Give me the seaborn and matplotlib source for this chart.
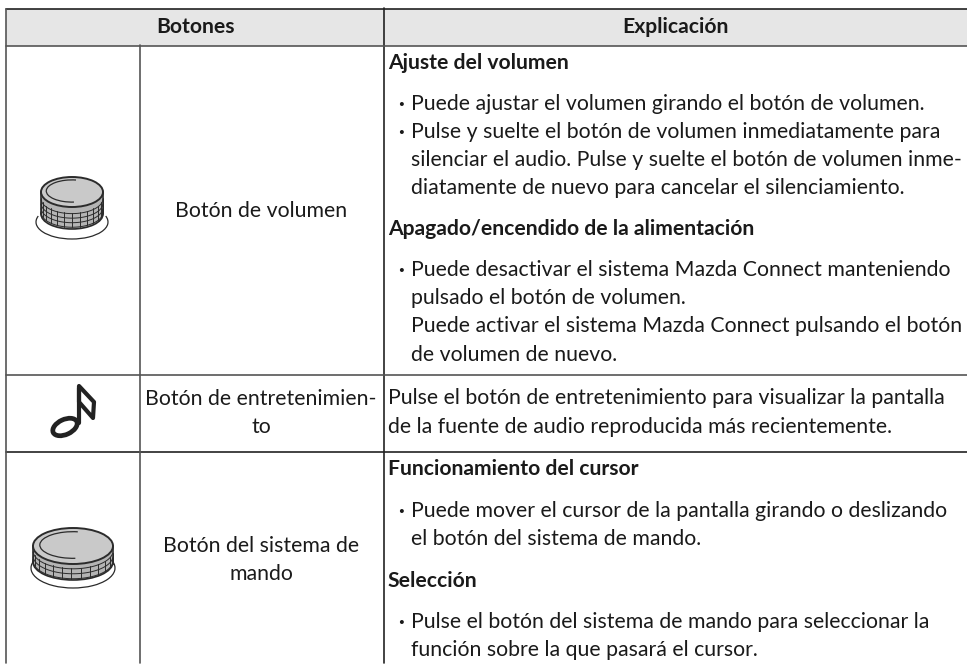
import numpy as np
import pandas as pd
import seaborn as sns
import matplotlib.pyplot as plt
from matplotlib.patches import Ellipse, Arc, Rectangle, PathPatch
from matplotlib.path import Path

sns.set_theme(style="white")
plt.rcParams['font.family'] = ['Lato', 'DejaVu Sans']

headers = ["Botones", "Explicación"]
header_x = [195, 675]

button_names = ["Botón de volumen", "Botón de entretenimien-", "to", "Botón del sistema de", "mando"]
button_y = [217, 405, 433, 552, 580]

bold_lines = ["Ajuste del volumen", "Apagado/encendido de la alimentación", "Funcionamiento del cursor", "Selección"]
bold_y = [69, 235, 475, 587]

body_lines = [
    "Puede ajustar el volumen girando el botón de volumen.",
    "Pulse y suelte el botón de volumen inmediatamente para",
    "silenciar el audio. Pulse y suelte el botón de volumen inme-",
    "diatamente de nuevo para cancelar el silenciamiento.",
    "Puede desactivar el sistema Mazda Connect manteniendo",
    "pulsado el botón de volumen.",
    "Puede activar el sistema Mazda Connect pulsando el botón",
    "de volumen de nuevo.",
    "Puede mover el cursor de la pantalla girando o deslizando",
    "el botón del sistema de mando.",
    "Pulse el botón del sistema de mando para seleccionar la",
    "función sobre la que pasará el cursor.",
]
body_y = [110, 138, 166, 194, 276, 304, 332, 361, 517, 545, 628, 656]
bullet_rows = [0, 1, 4, 8, 10]

plain_lines = ["Pulse el botón de entretenimiento para visualizar la pantalla",
               "de la fuente de audio reproducida más recientemente."]
plain_y = [404, 433]

rule_name = ["top", "row2", "col2", "head", "row1", "left", "col1"]
rule_shade = ["dark", "dark", "dark", "grey", "grey", "grey", "grey"]
rule_x0 = [6, 6, 383.5, 6, 6, 6, 139.5]
rule_x1 = [967, 967, 383.5, 967, 967, 6, 139.5]
rule_y0 = [9, 452, 8, 45.5, 374.5, 9, 45]
rule_y1 = [9, 452, 663, 45.5, 374.5, 663, 663]

rules = pd.DataFrame({
    "rule": rule_name + rule_name,
    "shade": rule_shade + rule_shade,
    "x": rule_x0 + rule_x1,
    "y": rule_y0 + rule_y1,
})

fig = plt.figure(figsize=(9.67, 6.65), dpi=100)
ax = fig.add_axes([0, 0, 1, 1])
ax.set_xlim(0, 967)
ax.set_ylim(665, 0)
ax.axis("off")

ax.add_patch(Rectangle((6, 9), 961, 36.5, fc="#e6e6e6", ec="none", zorder=0))
sns.lineplot(data=rules, x="x", y="y", units="rule", estimator=None, sort=False, hue="shade",
             palette={"dark": "#222222", "grey": "#555555"}, lw=1.2, ax=ax, legend=False)

ink = "#1a1a1a"
fs = 15.35
fs_bold = 15.2

for t, x in zip(headers, header_x):
    ax.text(x, 33, t, ha="center", va="baseline", fontsize=fs_bold, fontweight="bold", color=ink)
for t, y in zip(button_names, button_y):
    ax.text(261, y, t, ha="center", va="baseline", fontsize=fs, color=ink)
for t, y in zip(bold_lines, bold_y):
    ax.text(388, y, t, ha="left", va="baseline", fontsize=fs_bold, fontweight="bold", color=ink)
for i, (t, y) in enumerate(zip(body_lines, body_y)):
    ax.text(411, y, t, ha="left", va="baseline", fontsize=fs, color=ink)
    if i in bullet_rows:
        ax.text(398, y, "·", ha="left", va="baseline", fontsize=fs, fontweight="bold", color=ink)
for t, y in zip(plain_lines, plain_y):
    ax.text(388, y, t, ha="left", va="baseline", fontsize=fs, color=ink)


def knob(cx, cy, rx, ry, side, ring_rx, ring_bottom, grid_from, n_rows):
    line = "#2b2b2b"
    # ring under the knob
    ax.add_patch(Arc((cx, ring_bottom - ry - 2), 2 * ring_rx, 2 * (ry + 2), theta1=350, theta2=190,
                     ec=line, lw=0.9))
    # side wall
    ax.add_patch(Ellipse((cx, cy + side), 2 * rx, 2 * ry, fc="#b4b4b4", ec=line, lw=1.2, zorder=2))
    ax.add_patch(Rectangle((cx - rx + 0.6, cy), 2 * rx - 1.2, side, fc="#b4b4b4", ec="none", zorder=2))
    ax.plot([cx - rx, cx - rx], [cy, cy + side], color=line, lw=1.2, zorder=3)
    ax.plot([cx + rx, cx + rx], [cy, cy + side], color=line, lw=1.2, zorder=3)
    # knurling
    t = np.linspace(np.pi * grid_from, np.pi * 0.98, 120)
    for k in range(n_rows):
        off = cy + side * (0.3 + 0.62 * k / max(n_rows - 1, 1))
        ax.plot(cx + rx * np.cos(t), off + ry * np.sin(t), color=line, lw=0.7, zorder=3)
    for a in np.linspace(grid_from, 0.98, 13):
        px = cx + rx * np.cos(np.pi * a)
        py = cy + ry * np.sin(np.pi * a)
        ax.plot([px, px], [py + side * 0.25, py + side * 0.92], color=line, lw=0.7, zorder=3)
    # top face
    ax.add_patch(Ellipse((cx, cy), 2 * rx, 2 * ry, fc="#c9c9c9", ec=line, lw=1.4, zorder=4))
    ax.add_patch(Arc((cx, cy - 1), 2 * rx * 0.83, 2 * ry * 0.74, theta1=80, theta2=290,
                     ec=line, lw=0.9, zorder=5))


knob(72, 192, 31, 15, 22, 36, 239, 0.02, 4)
knob(73, 546, 40, 18, 16, 42, 588, 0.05, 3)

# music note
head = Ellipse((65, 427), 26, 15, angle=-25, fc="none", ec="#222222", lw=3.4, zorder=3)
ax.add_patch(head)
ax.plot([79, 79], [388, 423], color="#222222", lw=3.0, solid_capstyle="round")
flag = Path([(79, 386), (94, 402), (93, 418), (79, 402), (79, 386)], closed=True)
ax.add_patch(PathPatch(flag, fc="none", ec="#222222", lw=3.0, joinstyle="round"))

fig.savefig("out.png", dpi=100)
